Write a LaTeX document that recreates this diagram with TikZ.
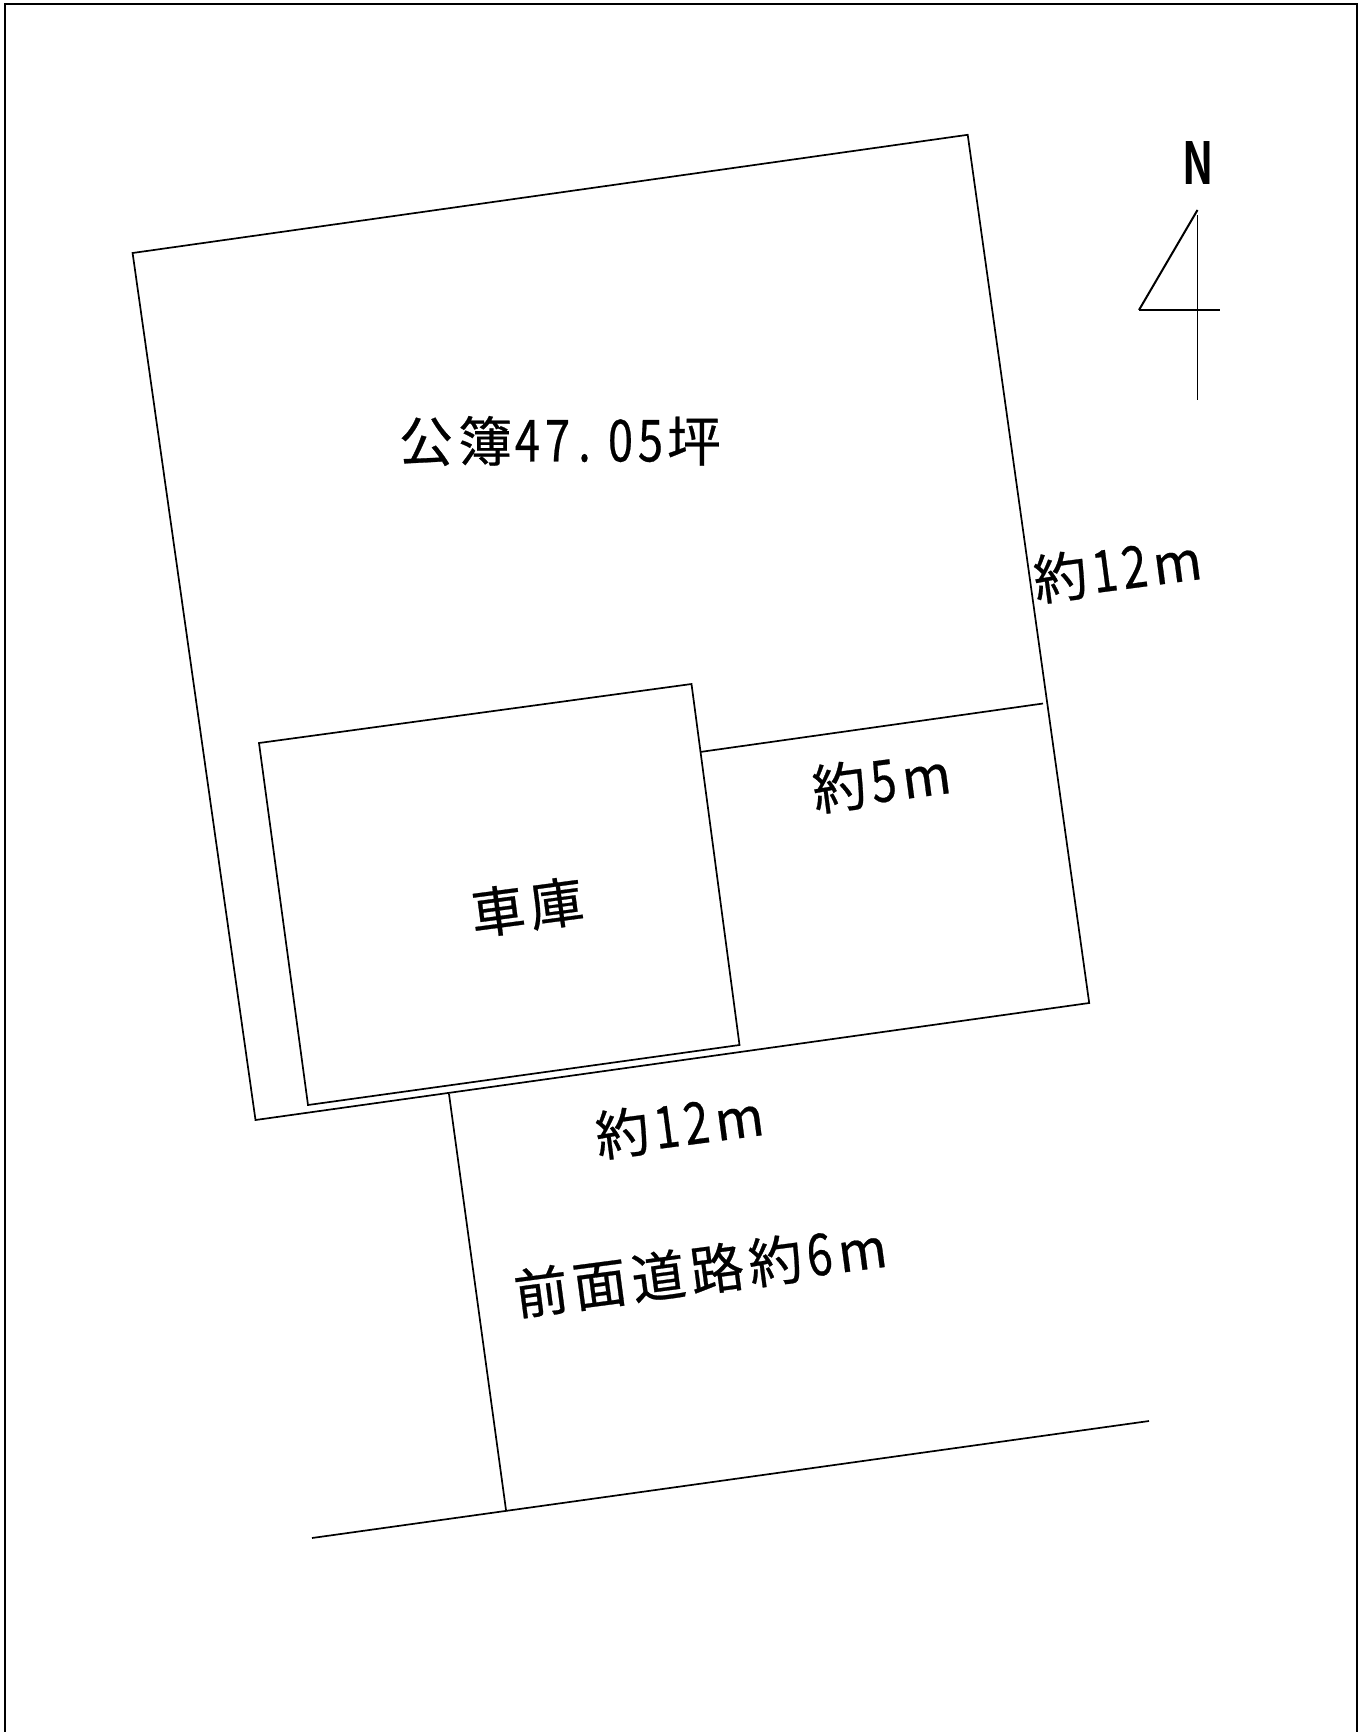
\documentclass[tikz,border=0pt]{standalone}
\usepackage{fontspec}
\usepackage{graphicx}
\newfontfamily\cjk[FakeBold=0.5]{Noto Sans CJK JP}
\newfontfamily\cjkb{Noto Sans CJK JP Bold}
\newcommand{\Kc}[1]{\makebox[59pt][c]{\fontsize{54}{54}\selectfont #1}}
\newcommand{\Dg}[1]{\makebox[30pt][c]{\scalebox{0.78}[1]{\fontsize{58}{58}\selectfont #1}}}
\newcommand{\Mm}{\hspace{10pt}\makebox[36pt][c]{\scalebox{0.98}[1]{\fontsize{54}{54}\selectfont m}}}
\tikzset{
  line/.style={draw=black,line width=1.7pt,line join=miter},
  lab/.style={font=\cjk,inner sep=0pt,rotate=7.5,text=black},
  labflat/.style={font=\cjk,inner sep=0pt,text=black}
}
\begin{document}
\begin{tikzpicture}[x=1pt,y=-1pt]
\useasboundingbox (0,0) rectangle (1361,1732);
\fill[white] (0,0) rectangle (1361,1732);
\draw[line width=2.6pt] (5,1732) -- (5,4) -- (1357,4) -- (1357,1732);
\coordinate (a) at (132.6,253);
\coordinate (b) at (967.7,134.8);
\coordinate (c) at (1089.2,1003);
\coordinate (d) at (255.5,1120);
\draw[line] (a)--(b)--(c)--(d)--cycle;
\coordinate (g1) at (259,743);
\coordinate (g2) at (691.5,684);
\coordinate (g3) at (739.5,1045);
\coordinate (g4) at (308,1105);
\draw[line] (g1)--(g2)--(g3)--(g4)--cycle;
\coordinate (s1) at (700,752);
\coordinate (s2) at (1043,703.5);
\draw[line] (s1)--(s2);
\coordinate (r1) at (449,1094);
\coordinate (r2) at (506,1510);
\draw[line] (r1)--(r2);
\coordinate (r3) at (312,1538);
\coordinate (r4) at (1149,1421);
\draw[line] (r3)--(r4);
\coordinate (n0) at (1197.5,210);
\coordinate (n1) at (1197.5,215);
\coordinate (n2) at (1197.5,400);
\coordinate (n3) at (1139,310);
\coordinate (n4) at (1220,310);
\draw[line,line width=1.3pt] (n1)--(n2);
\draw[line,line width=1.3pt] (n3)--(n4);
\draw[line,line width=2pt] (n0)--(n3);
\node[font=\cjkb,inner sep=0pt] (north) at (1198,163) {\scalebox{0.72}[1]{\fontsize{58}{58}\selectfont N}};
\node[labflat] (t1) at (560,441) {\Kc{公}\Kc{簿}\hspace{-2pt}\Dg{4}\Dg{7}\hspace{-3pt}\Dg{.}\hspace{6pt}\Dg{0}\Dg{5}\hspace{-1pt}\Kc{坪}};
\node[lab] (t2) at (1113,570) {\Kc{約}\Dg{1}\Dg{2}\Mm};
\node[lab] (t3) at (877,782) {\Kc{約}\Dg{5}\Mm};
\node[lab] (t4) at (527,907) {\Kc{車}\Kc{庫}};
\node[lab] (t5) at (675,1126) {\Kc{約}\Dg{1}\Dg{2}\Mm};
\node[lab] (t6) at (696,1271) {\Kc{前}\Kc{面}\Kc{道}\Kc{路}\Kc{約}\Dg{6}\Mm};
\end{tikzpicture}
\end{document}
